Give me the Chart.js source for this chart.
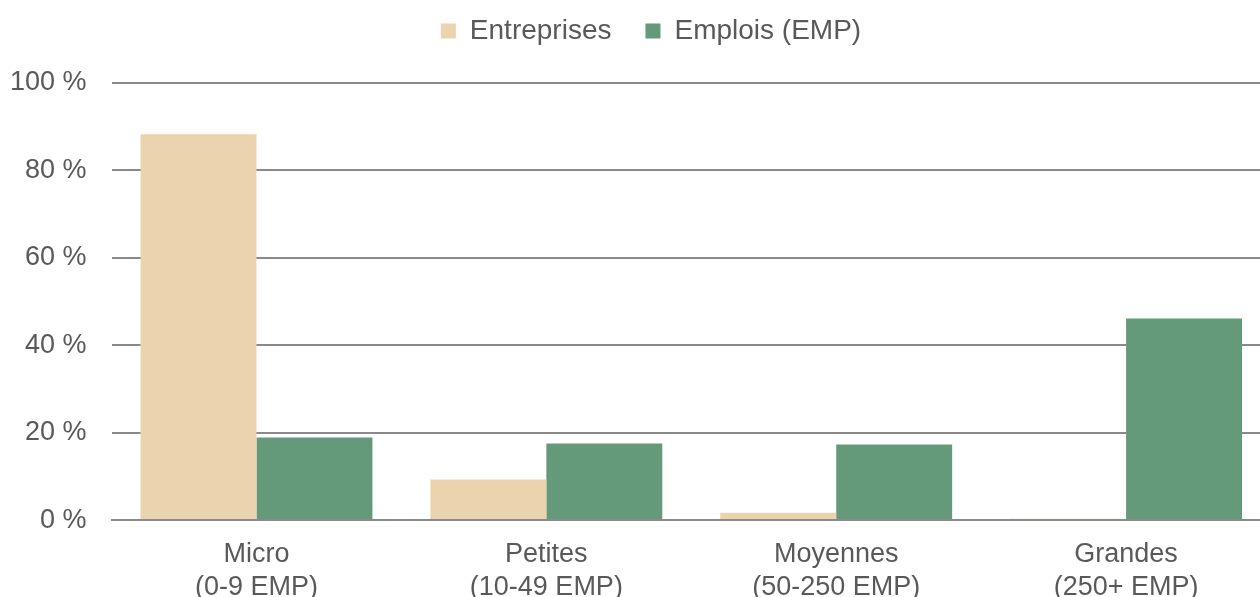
<!DOCTYPE html>
<html>
<head>
<meta charset="utf-8">
<script src="https://cdn.jsdelivr.net/npm/chart.js@4"></script>
<style>
  html, body { margin: 0; padding: 0; background: #fff; overflow: hidden; }
  #wrap { width: 1260px; height: 597px; overflow: hidden; }
</style>
</head>
<body>
<div id="wrap"><canvas id="sizeChart" width="1271" height="614"></canvas></div>
<script>
// categories and values (% of total)
const categories = [
    ['Micro', '(0-9 EMP)'],
    ['Petites', '(10-49 EMP)'],
    ['Moyennes', '(50-250 EMP)'],
    ['Grandes', '(250+ EMP)']
];
const entreprises = [88.3, 9.3, 1.7, 0.3];
const emplois = [18.9, 17.5, 17.3, 46.1];
const yTicks = [0, 20, 40, 60, 80, 100];

const textColor = '#595959';
const gridColor = '#8a8a8a';

// extra room under the legend, and nudge it right a bit
const legendGap = {
    id: 'legendGap',
    beforeInit(chart) {
        const fit = chart.legend.fit;
        chart.legend.fit = function () {
            fit.bind(chart.legend)();
            this.height += 28;
        };
    },
    afterLayout(chart) {
        chart.legend.left += 23;
        chart.legend.right += 23;
    }
};

const chartConfig = {
    type: 'bar',
    data: {
        labels: categories,
        datasets: [{
            label: 'Entreprises',
            data: entreprises,
            backgroundColor: '#ebd3ad'
        }, {
            label: 'Emplois (EMP)',
            data: emplois,
            backgroundColor: '#649a7a'
        }]
    },
    options: {
        responsive: false,
        animation: false,
        layout: { padding: { top: -17, right: 0, bottom: 0, left: -15 } },
        datasets: {
            bar: { categoryPercentage: 0.80, barPercentage: 1.0 }
        },
        plugins: {
            tooltip: { enabled: false },
            legend: {
                position: 'top',
                labels: {
                    color: textColor,
                    font: { family: 'Liberation Sans', size: 28 },
                    boxWidth: 15,
                    boxHeight: 15,
                    padding: 34
                }
            }
        },
        scales: {
            x: {
                grid: { display: false },
                border: { color: gridColor, width: 2 },
                ticks: {
                    color: textColor,
                    font: { family: 'Liberation Sans', size: 27, lineHeight: 1.22 },
                    padding: 10,
                    maxRotation: 0
                }
            },
            y: {
                min: 0,
                max: 100,
                afterBuildTicks: axis => { axis.ticks = yTicks.map(v => ({ value: v })); },
                grid: { color: gridColor, lineWidth: 2, drawTicks: false },
                border: { display: false },
                ticks: {
                    color: textColor,
                    font: { family: 'Liberation Sans', size: 27 },
                    padding: 25,
                    callback: v => v + ' %'
                }
            }
        }
    },
    plugins: [legendGap]
};

const ctx = document.getElementById('sizeChart').getContext('2d');
new Chart(ctx, chartConfig);
</script>
</body>
</html>
